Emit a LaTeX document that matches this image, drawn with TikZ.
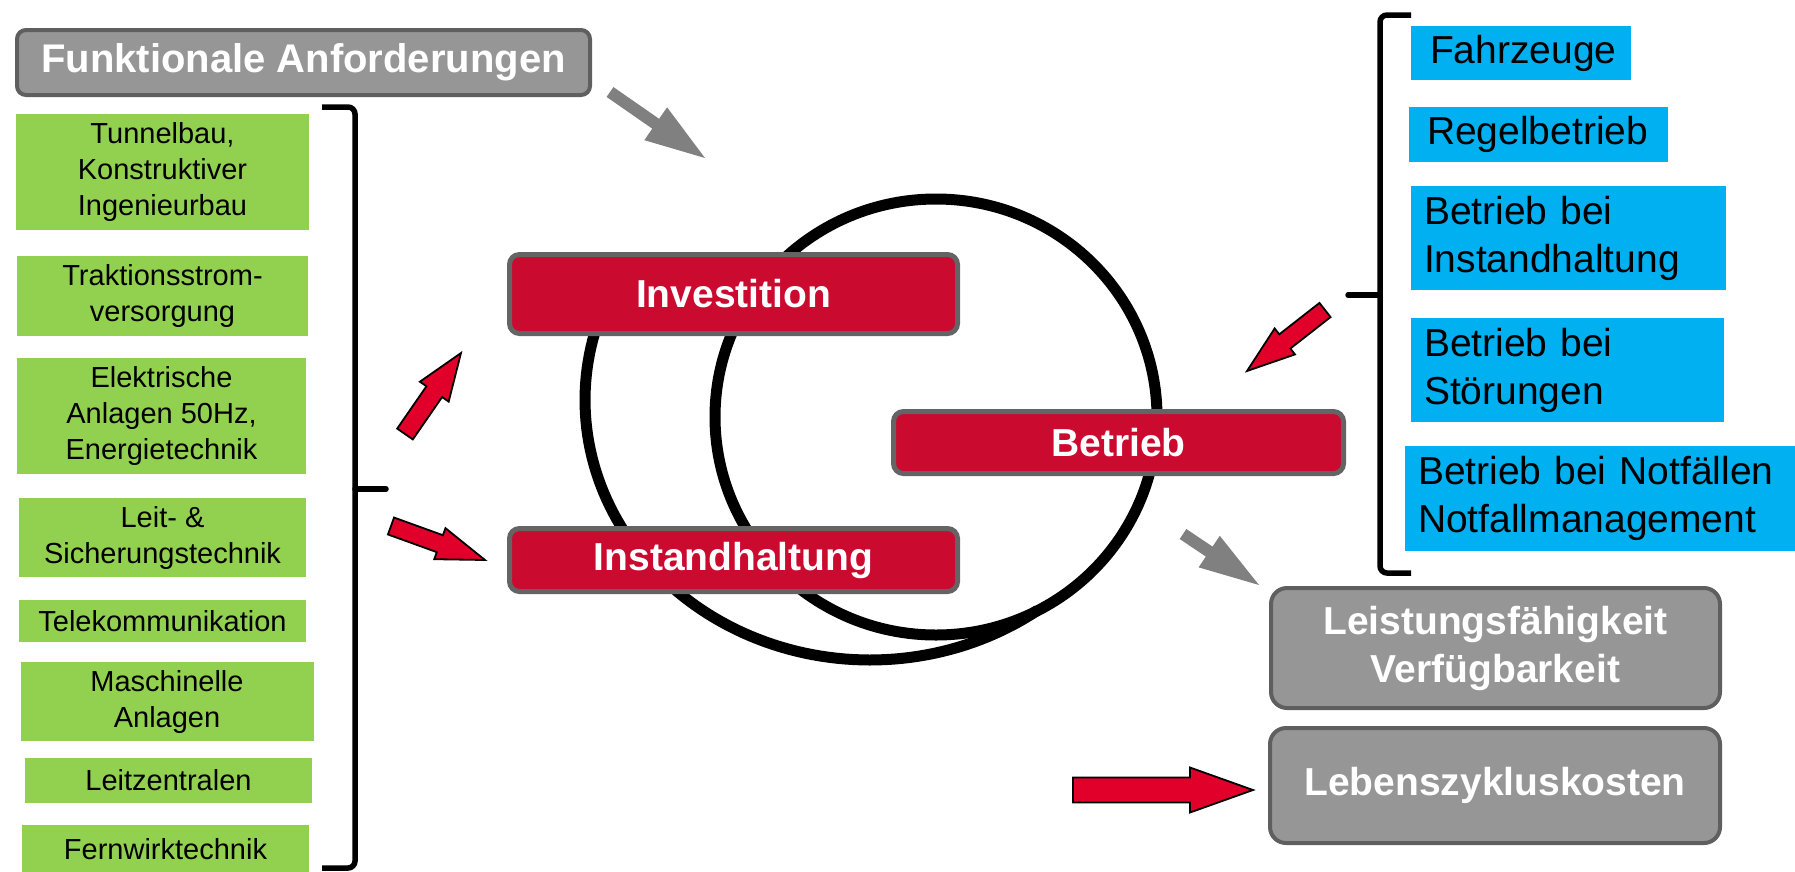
\documentclass[tikz,border=0pt]{standalone}
\usepackage{fontspec}
\setmainfont{Liberation Sans}
\definecolor{boxred}{RGB}{202,10,46}
\definecolor{redborder}{RGB}{100,100,100}
\definecolor{arrred}{RGB}{225,0,42}
\definecolor{boxgray}{RGB}{150,150,150}
\definecolor{grayborder}{RGB}{95,95,95}
\definecolor{arrgray}{RGB}{128,128,128}
\definecolor{lgreen}{RGB}{146,208,80}
\definecolor{lblue}{RGB}{0,176,240}
\newcommand\fGreen{\fontsize{29pt}{36pt}\selectfont}
\newcommand\fBlue{\fontsize{39pt}{48pt}\selectfont}
\newcommand\fBold{\fontsize{39pt}{48pt}\selectfont\bfseries}
\newcommand\fTitle{\fontsize{40pt}{48pt}\selectfont\bfseries}
% #1 style, #2 x1, #3 y1 (tail centre), #4 x2, #5 y2 (tip), #6 shaft width, #7 head width, #8 head length
\newcommand\blockarrow[8]{%
  \pgfmathsetmacro\baAng{atan2((#3)-(#5),(#4)-(#2))}%
  \pgfmathsetmacro\baLen{veclen((#4)-(#2),(#5)-(#3))}%
  \pgfmathsetmacro\baNeck{\baLen-(#8)}%
  \pgfmathsetmacro\baS{(#6)/2}%
  \pgfmathsetmacro\baH{(#7)/2}%
  \begin{scope}[shift={(#2,#3)},rotate=\baAng]
    \path[#1] (0,-\baS) -- (\baNeck,-\baS) -- (\baNeck,-\baH) -- (\baLen,0)
      -- (\baNeck,\baH) -- (\baNeck,\baS) -- (0,\baS) -- cycle;
  \end{scope}}
\begin{document}
\begin{tikzpicture}[x=1pt,y=-1pt,
  greenbox/.style={fill=lgreen, inner sep=0pt, align=center, font=\fGreen, text=black},
  bluebox/.style={fill=lblue, inner xsep=13pt, inner ysep=0pt, align=left, font=\fBlue, text=black},
  redbox/.style={fill=boxred, draw=redborder, line width=5pt, rounded corners=10pt,
    text=white, font=\fBold, inner sep=0pt, align=center},
  graybox/.style={fill=boxgray, draw=grayborder, line width=4pt, rounded corners=16pt,
    text=white, font=\fBold, inner sep=0pt, align=center},
  cycleline/.style={draw=black, line width=11pt},
  bracketline/.style={draw=black, line width=5.5pt, rounded corners=7pt},
  redarrow/.style={fill=arrred, draw=black, line width=1.8pt, line join=miter},
  grayarrow/.style={fill=arrgray}]
\useasboundingbox (0,0) rectangle (1795,871);

% cycle lines
\draw[cycleline] (936,417) ellipse [x radius=221pt, y radius=218pt];
\draw[cycleline] plot[domain=200:54, samples=90, variable=\t] ({870+285*cos(\t)},{400+260*sin(\t)});

% title box
\node[graybox, rounded corners=9pt, font=\fTitle, minimum width=573pt, minimum height=65pt] (fa) at (303.5,62.5) {Funktionale Anforderungen};

% green boxes
\node[greenbox, minimum width=293pt, minimum height=116pt] (g1) at (162.5,172) {Tunnelbau,\\Konstruktiver\\Ingenieurbau};
\node[greenbox, minimum width=291pt, minimum height=80pt] (g2) at (162.5,296) {Traktionsstrom-\\versorgung};
\node[greenbox, minimum width=289pt, minimum height=116pt] (g3) at (161.5,416) {Elektrische\\Anlagen 50Hz,\\Energietechnik};
\node[greenbox, minimum width=287pt, minimum height=79pt] (g4) at (162.5,537.5) {Leit- \&\\Sicherungstechnik};
\node[greenbox, minimum width=287pt, minimum height=42pt] (g5) at (162.5,621) {Telekommunikation};
\node[greenbox, minimum width=293pt, minimum height=79pt] (g6) at (167,701.5) {Maschinelle\\Anlagen};
\node[greenbox, minimum width=287pt, minimum height=45pt] (g7) at (168.5,780.5) {Leitzentralen};
\node[greenbox, minimum width=287pt, minimum height=48pt] (g8) at (165.5,849) {Fernwirktechnik};

% left bracket
\draw[bracketline] (322,107) -- (355,107) -- (355,868) -- (322,868);
\draw[bracketline, line cap=round] (355,489) -- (386,489);

% red boxes
\node[redbox, minimum width=448pt, minimum height=79pt] (inv) at (733.5,294) {Investition};
\node[redbox, minimum width=448pt, minimum height=63pt] (ins) at (733.5,560) {Instandhaltung};
\node[redbox, minimum width=450pt, minimum height=62pt] (bet) at (1118.5,442.5) {Betrieb};

% blue boxes
\node[bluebox, inner xsep=19pt, text width=182pt, minimum height=54pt] (b1) at (1521,53) {Fahrzeuge};
\node[bluebox, inner xsep=18pt, text width=223pt, minimum height=55pt] (b2) at (1538.5,134.5) {Regelbetrieb};
\node[bluebox, text width=289pt, minimum height=104pt] (b3) at (1568.5,238) {Betrieb bei\\Instandhaltung};
\node[bluebox, text width=287pt, minimum height=104pt] (b4) at (1567.5,370) {Betrieb bei\\Störungen};
\node[bluebox, text width=364pt, minimum height=105pt] (b5) at (1600,498.5) {Betrieb bei Notfällen\\Notfallmanagement};

% right bracket
\draw[bracketline] (1411,15) -- (1380,15) -- (1380,573) -- (1411,573);
\draw[bracketline, line cap=round] (1380,295) -- (1348,295);

% gray result boxes
\node[graybox, minimum width=449pt, minimum height=120pt] (lf) at (1495.5,648) {Leistungsfähigkeit\\Verfügbarkeit};
\node[graybox, minimum width=450pt, minimum height=115pt] (lz) at (1495,785.5) {Lebenszykluskosten};

% block arrows
\blockarrow{grayarrow}{610}{92}{705}{158}{12}{40}{60}
\blockarrow{grayarrow}{1183}{534}{1259}{585}{12}{38}{60}
\blockarrow{redarrow}{405}{434}{461}{353}{19}{35}{47}
\blockarrow{redarrow}{391}{526}{485}{560}{18}{33}{48}
\blockarrow{redarrow}{1325}{310}{1247}{371}{18}{33}{48}
\blockarrow{redarrow}{1073}{790}{1253}{790}{25}{45}{63}
\end{tikzpicture}
\end{document}
